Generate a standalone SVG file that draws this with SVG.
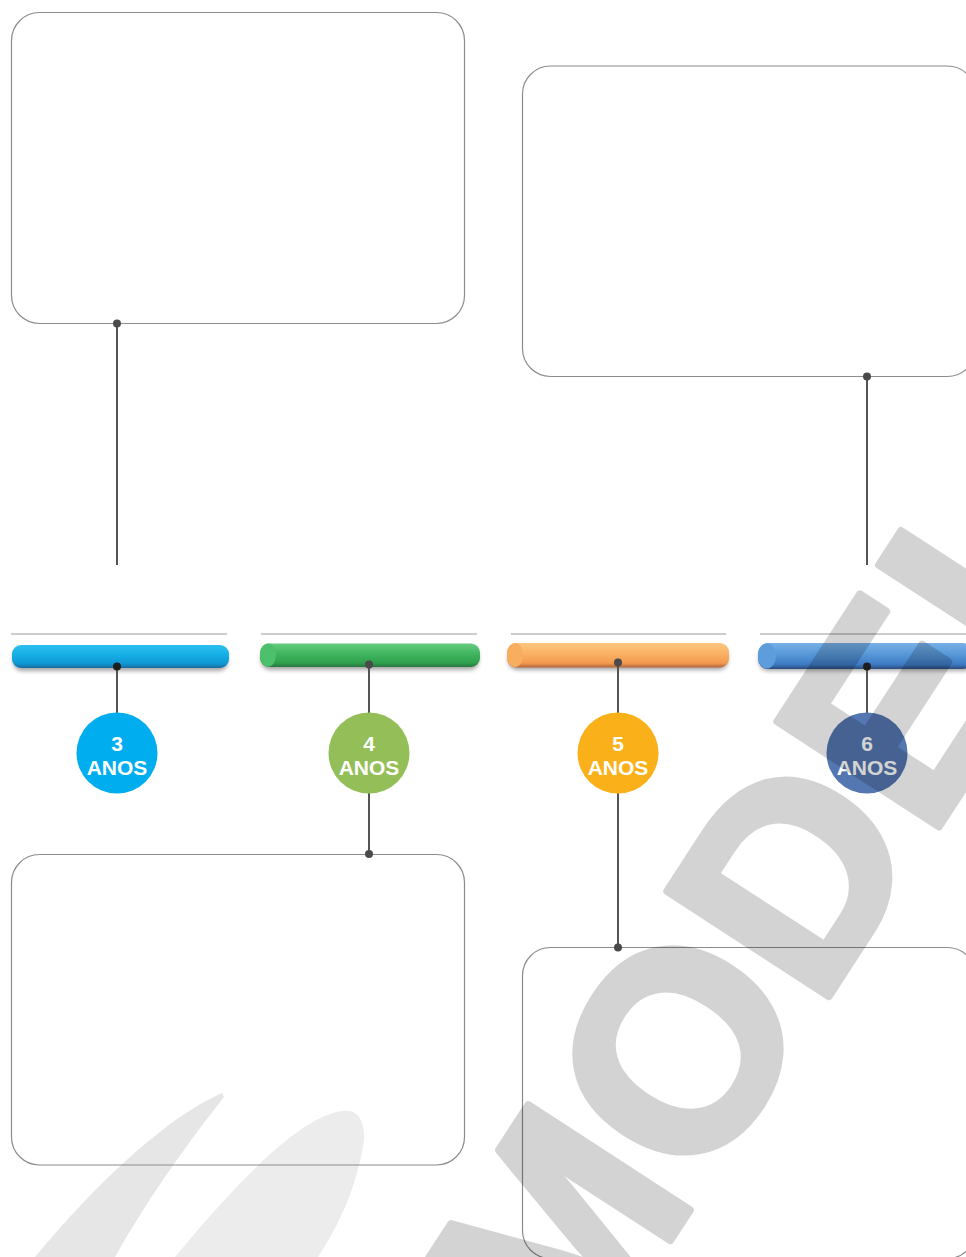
<svg xmlns="http://www.w3.org/2000/svg" width="966" height="1257" viewBox="0 0 966 1257">
  <defs>
    <style>
      .box { fill: none; stroke: #8c8c8c; stroke-width: 1.2; }
      .rule { stroke: #9a9a9a; stroke-width: 1.2; }
      .conn { stroke: #555555; stroke-width: 2; fill: none; }
      .dot { fill: #4a4a4a; }
      .dotdark { fill: #1e1e1e; }
      .lbl { font-family: "Liberation Sans", Arial, sans-serif; font-weight: 700; font-size: 21px; fill: #ffffff; text-anchor: middle; }
      .wm { font-family: "Liberation Sans", Arial, sans-serif; font-weight: 700; font-size: 280px; fill: #000000; stroke: #000000; stroke-width: 8; stroke-linejoin: round; }
    </style>
    <filter id="shadow" x="-5%" y="-50%" width="110%" height="200%">
      <feGaussianBlur stdDeviation="2"/>
    </filter>
    <linearGradient id="gBlue1" x1="0" y1="0" x2="0" y2="1">
      <stop offset="0" stop-color="#2cc0f0"/>
      <stop offset="0.45" stop-color="#15ade6"/>
      <stop offset="0.82" stop-color="#0e96d2"/>
      <stop offset="1" stop-color="#1a6a9a"/>
    </linearGradient>
    <linearGradient id="gGreen" x1="0" y1="0" x2="0" y2="1">
      <stop offset="0" stop-color="#66cd80"/>
      <stop offset="0.4" stop-color="#43b761"/>
      <stop offset="0.82" stop-color="#2fa14e"/>
      <stop offset="1" stop-color="#2a7640"/>
    </linearGradient>
    <linearGradient id="gOrange" x1="0" y1="0" x2="0" y2="1">
      <stop offset="0" stop-color="#fdc680"/>
      <stop offset="0.4" stop-color="#fbb467"/>
      <stop offset="0.82" stop-color="#f29a4f"/>
      <stop offset="1" stop-color="#b4653b"/>
    </linearGradient>
    <linearGradient id="gBlue2" x1="0" y1="0" x2="0" y2="1">
      <stop offset="0" stop-color="#78b0e7"/>
      <stop offset="0.4" stop-color="#5a9ad9"/>
      <stop offset="0.82" stop-color="#3e7bc5"/>
      <stop offset="1" stop-color="#2b4b7c"/>
    </linearGradient>
  </defs>

  <rect x="0" y="0" width="966" height="1257" fill="#ffffff"/>

  <!-- light background swooshes -->
  <g id="swooshes">
    <path d="M222,1093 C165,1118 95,1185 35,1257 L115,1257 C150,1195 190,1140 224,1097 Z" fill="#e6e6e6"/>
    <path d="M175,1257 C232,1188 298,1117 342,1111 C366,1108 366,1135 362,1152 C353,1196 336,1230 318,1257 Z" fill="#ececec"/>
  </g>

  <!-- text boxes -->
  <g id="box1"><rect class="box" x="11.5" y="12.5" width="453" height="311" rx="28"/></g>
  <g id="box2"><rect class="box" x="522.5" y="66" width="453" height="310.5" rx="28"/></g>
  <g id="box3"><rect class="box" x="11.5" y="854.5" width="453" height="310.5" rx="28"/></g>
  <g id="box4"><rect class="box" x="522.5" y="947.5" width="453" height="311" rx="28"/></g>

  <!-- rules above the bars -->
  <g id="rules">
    <line class="rule" x1="11" y1="634" x2="227" y2="634"/>
    <line class="rule" x1="261" y1="634" x2="477" y2="634"/>
    <line class="rule" x1="511" y1="634" x2="726" y2="634"/>
    <line class="rule" x1="760" y1="634" x2="966" y2="634"/>
  </g>

  <!-- crayon bars -->
  <g id="bar3">
    <rect x="13" y="649" width="215" height="22" rx="9" fill="#000" opacity="0.35" filter="url(#shadow)"/>
    <rect x="12" y="645" width="217" height="23" rx="9" fill="url(#gBlue1)"/>
  </g>
  <g id="bar4">
    <rect x="261" y="648" width="218" height="22" rx="9" fill="#000" opacity="0.35" filter="url(#shadow)"/>
    <rect x="260" y="643.5" width="220" height="23.5" rx="9" fill="url(#gGreen)"/>
    <ellipse cx="268" cy="655" rx="8" ry="11.5" fill="#4cc06a"/>
  </g>
  <g id="bar5">
    <rect x="508" y="647" width="220" height="23" rx="9" fill="#000" opacity="0.35" filter="url(#shadow)"/>
    <rect x="507" y="643" width="222" height="24.5" rx="9" fill="url(#gOrange)"/>
    <ellipse cx="515" cy="655" rx="8" ry="12" fill="#f9ad5e"/>
  </g>
  <g id="bar6">
    <rect x="759" y="648" width="215" height="23" rx="9" fill="#000" opacity="0.35" filter="url(#shadow)"/>
    <rect x="758" y="643" width="215" height="26" rx="10" fill="url(#gBlue2)"/>
    <ellipse cx="767" cy="656" rx="9" ry="12.5" fill="#5e9ddc"/>
  </g>

  <!-- connectors -->
  <g id="connectors">
    <line class="conn" x1="117" y1="323" x2="117" y2="565"/>
    <line class="conn" x1="867" y1="376" x2="867" y2="565"/>
    <line class="conn" x1="117" y1="666" x2="117" y2="714"/>
    <line class="conn" x1="369" y1="664" x2="369" y2="714"/>
    <line class="conn" x1="369" y1="792" x2="369" y2="854"/>
    <line class="conn" x1="618" y1="662" x2="618" y2="714"/>
    <line class="conn" x1="618" y1="792" x2="618" y2="947"/>
    <line class="conn" x1="867" y1="666" x2="867" y2="714"/>
    <circle class="dot" cx="117" cy="323.5" r="4"/>
    <circle class="dot" cx="867" cy="376.5" r="4"/>
    <circle class="dotdark" cx="117" cy="666.5" r="4"/>
    <circle class="dot" cx="369" cy="664.5" r="4"/>
    <circle class="dot" cx="369" cy="854" r="4"/>
    <circle class="dot" cx="618" cy="662.5" r="4"/>
    <circle class="dot" cx="618" cy="947.5" r="4"/>
    <circle class="dotdark" cx="867" cy="666.5" r="4"/>
  </g>

  <!-- age circles -->
  <g id="age3">
    <circle cx="117" cy="753" r="40.5" fill="#00aeef"/>
    <text class="lbl" x="117" y="751">3<tspan x="117" y="775">ANOS</tspan></text>
  </g>
  <g id="age4">
    <circle cx="369" cy="753" r="40.5" fill="#94bf58"/>
    <text class="lbl" x="369" y="751">4<tspan x="369" y="775">ANOS</tspan></text>
  </g>
  <g id="age5">
    <circle cx="618" cy="753" r="40.5" fill="#fab119"/>
    <text class="lbl" x="618" y="751">5<tspan x="618" y="775">ANOS</tspan></text>
  </g>
  <g id="age6">
    <circle cx="867" cy="753" r="40.5" fill="#5577b1"/>
    <text class="lbl" x="867" y="751">6<tspan x="867" y="775">ANOS</tspan></text>
  </g>

  <!-- watermark -->
  <g id="watermark" opacity="0.17">
    <text class="wm" transform="translate(573,1390) rotate(-57)">MODELO</text>
  </g>
</svg>
